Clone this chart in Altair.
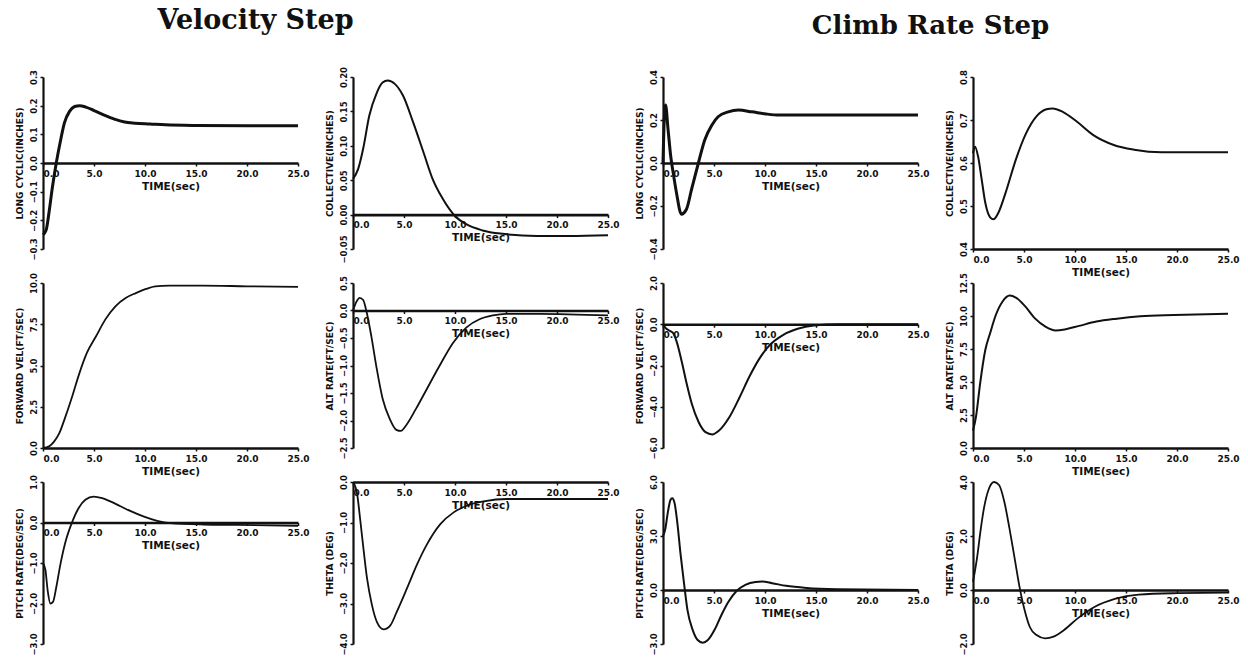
import altair as alt
import pandas as pd

# ---------------- data ----------------
X_TICKS = [0, 5, 10, 15, 20, 25]

# Velocity step
VEL_LCYC_T = [0, 0.3, 0.6, 0.9, 1.3, 1.7, 2.1, 2.6, 3.1, 3.6, 4.2, 5.0, 6.0, 7.0, 8.0, 9.0, 10.5, 12.0, 15.0, 20.0, 25.0]
VEL_LCYC_V = [-0.25, -0.235, -0.17, -0.09, 0.0, 0.075, 0.14, 0.18, 0.197, 0.2, 0.195, 0.183, 0.167, 0.153, 0.143, 0.139, 0.136, 0.133, 0.131, 0.13, 0.13]
VEL_LCYC_TICKS = [-0.3, -0.2, -0.1, 0.0, 0.1, 0.2, 0.3]

VEL_COLL_T = [0, 0.5, 1.0, 1.6, 2.3, 2.9, 3.4, 4.1, 4.9, 5.9, 6.9, 7.8, 8.8, 10.0, 11.1, 12.7, 14.7, 18.0, 21.2, 25.0]
VEL_COLL_V = [0.052, 0.066, 0.096, 0.144, 0.176, 0.192, 0.195, 0.19, 0.173, 0.134, 0.091, 0.052, 0.023, -0.002, -0.014, -0.023, -0.028, -0.031, -0.031, -0.03]
VEL_COLL_TICKS = [-0.05, 0.0, 0.05, 0.10, 0.15, 0.20]

VEL_FWD_T = [0, 0.6, 1.1, 1.6, 2.2, 2.9, 3.5, 4.3, 5.2, 6.1, 7.1, 8.1, 9.1, 10.1, 11.0, 12.4, 15.6, 20.0, 25.0]
VEL_FWD_V = [0, 0.1, 0.4, 0.9, 1.9, 3.2, 4.4, 5.76, 6.77, 7.78, 8.59, 9.09, 9.39, 9.64, 9.8, 9.84, 9.84, 9.8, 9.76]
VEL_FWD_TICKS = [0.0, 2.5, 5.0, 7.5, 10.0]

VEL_ALT_T = [0, 0.33, 0.65, 1.0, 1.3, 1.8, 2.3, 2.9, 3.6, 4.25, 4.7, 5.2, 6.2, 7.2, 8.5, 9.8, 11.1, 12.4, 13.7, 15.0, 18.3, 25.0]
VEL_ALT_V = [0, 0.156, 0.23, 0.19, 0.0, -0.47, -1.03, -1.6, -1.97, -2.17, -2.19, -2.09, -1.78, -1.44, -1.0, -0.59, -0.31, -0.16, -0.09, -0.06, -0.06, -0.09]
VEL_ALT_TICKS = [-2.5, -2.0, -1.5, -1.0, -0.5, 0.0, 0.5]

VEL_Q_T = [0, 0.23, 0.46, 0.72, 0.98, 1.3, 1.7, 2.2, 2.84, 3.5, 4.15, 4.97, 5.8, 6.6, 7.6, 8.6, 9.9, 11.2, 12.5, 15.75, 19.0, 25.0]
VEL_Q_V = [-1.0, -1.16, -1.68, -2.0, -1.96, -1.6, -1.04, -0.48, 0.0, 0.36, 0.56, 0.64, 0.6, 0.52, 0.4, 0.28, 0.144, 0.04, -0.016, -0.05, -0.06, -0.08]
VEL_Q_TICKS = [-3.0, -2.0, -1.0, 0.0, 1.0]

VEL_TH_T = [0, 0.4, 0.72, 1.05, 1.37, 1.86, 2.35, 3.0, 3.66, 4.3, 5.3, 6.27, 7.25, 8.56, 9.87, 11.2, 12.8, 15.1, 18.4, 25.0]
VEL_TH_V = [0, -0.29, -0.96, -1.7, -2.37, -3.04, -3.46, -3.64, -3.54, -3.2, -2.62, -2.04, -1.54, -1.04, -0.75, -0.58, -0.48, -0.42, -0.42, -0.42]
VEL_TH_TICKS = [-4.0, -3.0, -2.0, -1.0, 0.0]

# Climb rate step
CLB_LCYC_T = [0, 0.12, 0.25, 0.5, 0.76, 1.0, 1.32, 1.8, 2.3, 2.8, 3.47, 4.1, 4.8, 5.4, 6.4, 7.4, 8.7, 10.1, 11.4, 15.3, 20.0, 25.0]
CLB_LCYC_V = [0.0, 0.2, 0.27, 0.154, 0.03, -0.046, -0.138, -0.238, -0.215, -0.123, 0.0, 0.108, 0.177, 0.215, 0.238, 0.246, 0.238, 0.228, 0.223, 0.223, 0.223, 0.223]
CLB_LCYC_TICKS = [-0.4, -0.2, 0.0, 0.2, 0.4]

CLB_COLL_T = [0, 0.2, 0.5, 0.85, 1.2, 1.7, 2.0, 2.5, 3.2, 4.2, 5.2, 6.2, 7.2, 7.8, 8.8, 10.2, 11.8, 13.8, 15.8, 18.5, 25.0]
CLB_COLL_V = [0.623, 0.638, 0.615, 0.562, 0.508, 0.473, 0.469, 0.485, 0.531, 0.608, 0.669, 0.708, 0.725, 0.727, 0.719, 0.696, 0.665, 0.642, 0.631, 0.625, 0.625]
CLB_COLL_TICKS = [0.4, 0.5, 0.6, 0.7, 0.8]

CLB_FWD_T = [0, 0.33, 0.67, 1.0, 1.33, 1.83, 2.33, 2.83, 3.5, 4.17, 4.83, 5.5, 6.5, 7.5, 8.5, 9.5, 10.5, 11.8, 13.2, 14.8, 17.2, 25.0]
CLB_FWD_V = [0, -0.22, -0.32, -0.43, -0.83, -1.79, -2.9, -3.87, -4.75, -5.23, -5.34, -5.15, -4.51, -3.55, -2.51, -1.63, -0.99, -0.51, -0.22, -0.06, 0.0, 0.0]
CLB_FWD_TICKS = [-6.0, -4.0, -2.0, 0.0, 2.0]

CLB_ALT_T = [0, 0.3, 0.7, 1.2, 1.7, 2.2, 2.9, 3.6, 4.2, 5.1, 6.1, 7.1, 8.1, 9.1, 10.4, 12.1, 14.1, 16.4, 19.7, 25.0]
CLB_ALT_V = [1.3, 2.4, 4.9, 7.4, 8.75, 10.0, 11.1, 11.55, 11.4, 10.75, 9.8, 9.2, 8.9, 9.0, 9.25, 9.58, 9.8, 9.98, 10.08, 10.18]
CLB_ALT_TICKS = [0.0, 2.5, 5.0, 7.5, 10.0, 12.5]

CLB_Q_T = [0, 0.23, 0.47, 0.73, 0.9, 1.13, 1.4, 1.73, 2.07, 2.4, 2.9, 3.4, 3.9, 4.4, 5.07, 5.73, 6.4, 7.23, 8.07, 9.07, 9.73, 10.7, 12.07, 14.07, 17.07, 25.0]
CLB_Q_V = [3.0, 3.4, 4.3, 5.0, 5.1, 4.84, 3.76, 1.95, 0.33, -1.12, -2.2, -2.78, -2.93, -2.78, -2.2, -1.39, -0.67, -0.04, 0.29, 0.45, 0.47, 0.38, 0.23, 0.11, 0.04, 0.0]
CLB_Q_TICKS = [-3.0, 0.0, 3.0, 6.0]

CLB_TH_T = [0, 0.4, 0.73, 1.07, 1.57, 2.07, 2.57, 3.07, 3.57, 4.07, 4.57, 5.07, 5.57, 6.23, 7.07, 7.9, 8.9, 10.23, 11.9, 13.9, 16.23, 19.57, 25.0]
CLB_TH_V = [0.3, 1.2, 2.17, 3.02, 3.76, 4.0, 3.88, 3.27, 2.29, 1.2, 0.1, -0.76, -1.37, -1.67, -1.79, -1.73, -1.49, -1.06, -0.63, -0.33, -0.17, -0.12, -0.1]
CLB_TH_TICKS = [-2.0, 0.0, 2.0, 4.0]

# ---------------- styling ----------------
INK = "#111111"
SANS = "DejaVu Sans"
SERIF = "DejaVu Serif"
PANEL_W = 255
ROW_H = [172, 165, 162]


def panel(t, v, ytitle, yticks, yfmt, height, sw=2.0, title=None):
    lo, hi = yticks[0], yticks[-1]
    # place the time axis on the zero line
    off = -height * (0 - lo) / (hi - lo) if lo < 0 else 0
    df = pd.DataFrame({"t": t, "v": v})
    x_axis = alt.Axis(
        values=X_TICKS, format=".1f", title="TIME(sec)", offset=off, grid=False,
        domainColor=INK, domainWidth=2.6, tickColor=INK, tickSize=3, tickWidth=1.5,
        labelFont=SANS, labelFontSize=9, labelFontWeight="bold", labelColor=INK,
        labelPadding=3, labelFlush=False, labelOverlap=False,
        labelAlign={"condition": {"test": "datum.value === 0", "value": "left"}, "value": "center"},
        titleFont=SANS, titleFontSize=10.5, titleFontWeight="bold", titleColor=INK, titlePadding=3,
    )
    y_axis = alt.Axis(
        values=yticks, format=yfmt, title=ytitle, grid=False,
        domainColor=INK, domainWidth=2.2, tickColor=INK, tickSize=3, tickWidth=1.5,
        labelAngle=270, labelAlign="center", labelBaseline="bottom", labelPadding=2,
        labelFont=SANS, labelFontSize=8.5, labelFontWeight="bold", labelColor=INK, labelOverlap=False,
        titleFont=SANS, titleFontSize=9, titleFontWeight="bold", titleColor=INK, titlePadding=5,
    )
    ch = alt.Chart(df).mark_line(interpolate="monotone", color=INK, strokeWidth=sw).encode(
        x=alt.X("t:Q", scale=alt.Scale(domain=[0, 25], nice=False, zero=False), axis=x_axis),
        y=alt.Y("v:Q", scale=alt.Scale(domain=[lo, hi], nice=False, zero=False), axis=y_axis),
    ).properties(width=PANEL_W, height=height)
    if title is not None:
        ch = ch.properties(title=title)
    return ch


vel_title = alt.TitleParams(
    "Velocity Step", anchor="middle", frame="group", dx=85, offset=34,
    font=SERIF, fontSize=27, fontWeight="bold", color=INK,
)
clb_title = alt.TitleParams(
    "Climb Rate Step", anchor="middle", frame="group", dx=140, offset=30,
    font=SERIF, fontSize=26, fontWeight="bold", color=INK,
)

panels = [
    panel(VEL_LCYC_T, VEL_LCYC_V, "LONG CYCLIC(INCHES)", VEL_LCYC_TICKS, ".1f", ROW_H[0], 3.0, vel_title),
    panel(VEL_COLL_T, VEL_COLL_V, "COLLECTIVE(INCHES)", VEL_COLL_TICKS, ".2f", ROW_H[0], 2.0),
    panel(CLB_LCYC_T, CLB_LCYC_V, "LONG CYCLIC(INCHES)", CLB_LCYC_TICKS, ".1f", ROW_H[0], 3.0, clb_title),
    panel(CLB_COLL_T, CLB_COLL_V, "COLLECTIVE(INCHES)", CLB_COLL_TICKS, ".1f", ROW_H[0], 2.0),
    panel(VEL_FWD_T, VEL_FWD_V, "FORWARD VEL(FT/SEC)", VEL_FWD_TICKS, ".1f", ROW_H[1], 1.8),
    panel(VEL_ALT_T, VEL_ALT_V, "ALT RATE(FT/SEC)", VEL_ALT_TICKS, ".1f", ROW_H[1], 1.8),
    panel(CLB_FWD_T, CLB_FWD_V, "FORWARD VEL(FT/SEC)", CLB_FWD_TICKS, ".1f", ROW_H[1], 2.0),
    panel(CLB_ALT_T, CLB_ALT_V, "ALT RATE(FT/SEC)", CLB_ALT_TICKS, ".1f", ROW_H[1], 2.0),
    panel(VEL_Q_T, VEL_Q_V, "PITCH RATE(DEG/SEC)", VEL_Q_TICKS, ".1f", ROW_H[2], 1.8),
    panel(VEL_TH_T, VEL_TH_V, "THETA (DEG)", VEL_TH_TICKS, ".1f", ROW_H[2], 1.8),
    panel(CLB_Q_T, CLB_Q_V, "PITCH RATE(DEG/SEC)", CLB_Q_TICKS, ".1f", ROW_H[2], 2.0),
    panel(CLB_TH_T, CLB_TH_V, "THETA (DEG)", CLB_TH_TICKS, ".1f", ROW_H[2], 1.8),
]

chart = alt.concat(
    *panels, columns=4, spacing={"row": 34, "column": 55}, bounds="flush", align="each",
).properties(
    padding={"left": 14, "top": 7, "right": 4, "bottom": 0},
    background="white",
).configure_view(stroke=None)

chart.save("out.html", embed_options={"renderer": "svg", "actions": False})
